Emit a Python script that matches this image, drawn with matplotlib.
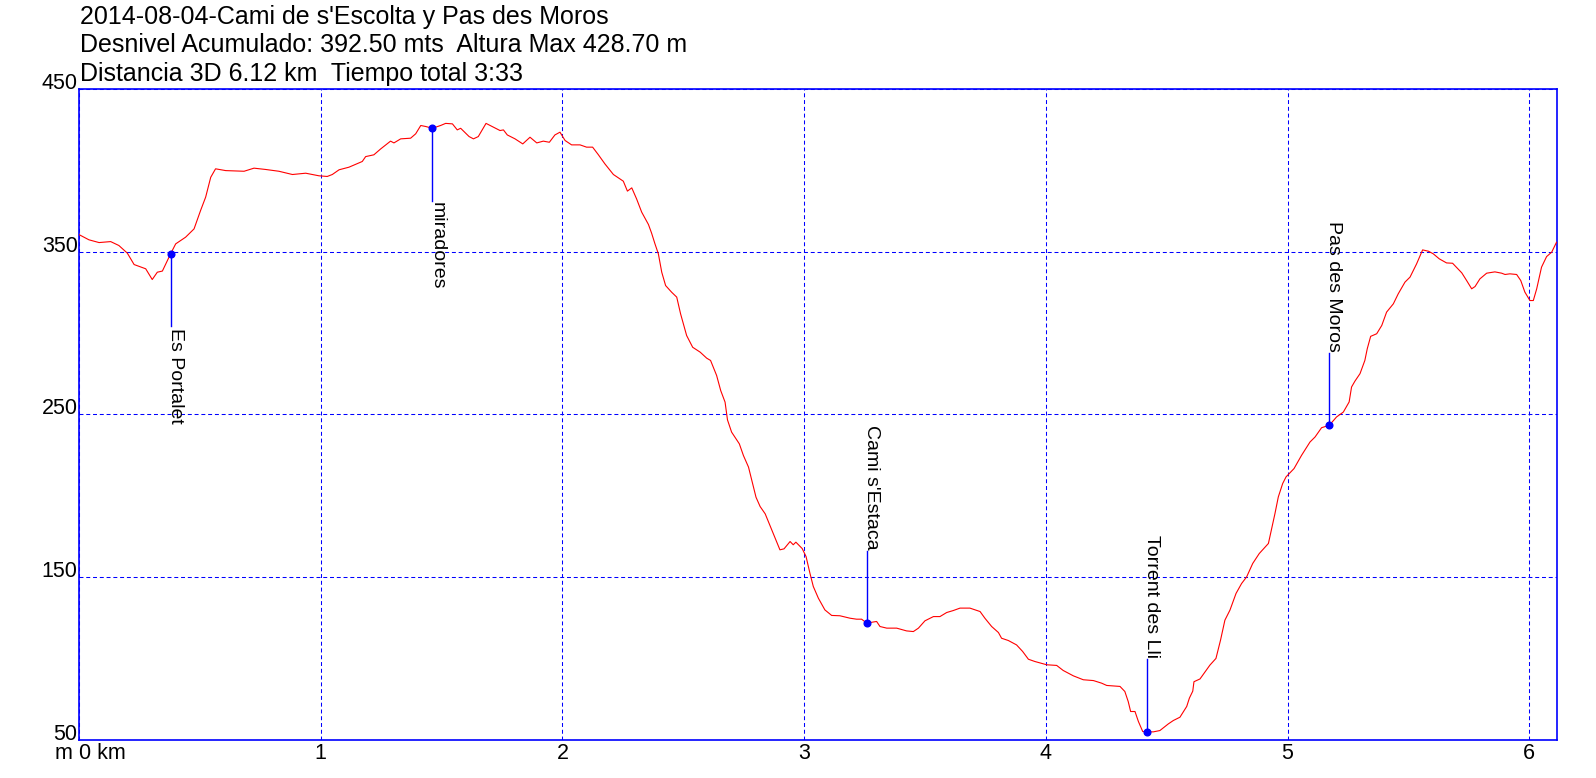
import matplotlib
matplotlib.use("Agg")
import matplotlib.pyplot as plt

plt.rcParams['font.family'] = ['Liberation Sans', 'DejaVu Sans']

# perfil de altura (km, m)
dist_km = [
    0.000, 0.041, 0.083, 0.131, 0.165, 0.200, 0.228, 0.276, 0.303, 0.324,
    0.345, 0.379, 0.400, 0.441, 0.476, 0.503, 0.524, 0.545, 0.565, 0.607,
    0.683, 0.724, 0.772, 0.827, 0.883, 0.938, 0.993, 1.027, 1.048, 1.076,
    1.117, 1.172, 1.186, 1.220, 1.248, 1.289, 1.303, 1.331, 1.372, 1.393,
    1.414, 1.434, 1.462, 1.496, 1.517, 1.545, 1.565, 1.579, 1.614, 1.632,
    1.652, 1.684, 1.714, 1.742, 1.756, 1.772, 1.804, 1.836, 1.866, 1.894,
    1.921, 1.946, 1.969, 1.990, 2.011, 2.038, 2.073, 2.100, 2.125, 2.148,
    2.176, 2.211, 2.252, 2.269, 2.287, 2.307, 2.328, 2.356, 2.369, 2.383,
    2.397, 2.411, 2.427, 2.452, 2.473, 2.489, 2.514, 2.539, 2.570, 2.597,
    2.613, 2.638, 2.655, 2.673, 2.683, 2.700, 2.732, 2.749, 2.770, 2.787,
    2.801, 2.818, 2.839, 2.873, 2.900, 2.917, 2.942, 2.955, 2.966, 2.992,
    3.008, 3.024, 3.038, 3.059, 3.086, 3.114, 3.148, 3.190, 3.217, 3.238,
    3.259, 3.300, 3.314, 3.342, 3.383, 3.424, 3.452, 3.473, 3.500, 3.535,
    3.562, 3.590, 3.617, 3.645, 3.686, 3.728, 3.748, 3.776, 3.804, 3.817,
    3.845, 3.879, 3.904, 3.928, 3.955, 4.004, 4.045, 4.072, 4.114, 4.155,
    4.197, 4.231, 4.252, 4.307, 4.327, 4.341, 4.351, 4.369, 4.383, 4.401,
    4.417, 4.445, 4.472, 4.507, 4.528, 4.555, 4.583, 4.594, 4.608, 4.613,
    4.638, 4.659, 4.679, 4.704, 4.723, 4.741, 4.762, 4.787, 4.810, 4.831,
    4.856, 4.883, 4.921, 4.930, 4.948, 4.962, 4.980, 4.994, 5.027, 5.058,
    5.093, 5.114, 5.141, 5.173, 5.203, 5.231, 5.255, 5.265, 5.279, 5.300,
    5.320, 5.330, 5.344, 5.369, 5.390, 5.410, 5.438, 5.458, 5.486, 5.507,
    5.534, 5.559, 5.583, 5.603, 5.628, 5.658, 5.683, 5.721, 5.741, 5.762,
    5.776, 5.796, 5.824, 5.858, 5.886, 5.900, 5.920, 5.948, 5.965, 5.982,
    6.003, 6.017, 6.031, 6.051, 6.072, 6.093, 6.113,
]
altura_m = [
    360.4, 357.2, 355.5, 356.1, 353.7, 349.0, 342.0, 339.4, 332.8, 337.3,
    338.0, 348.6, 354.7, 358.8, 363.9, 375.2, 383.4, 395.6, 400.8, 399.7,
    399.3, 401.2, 400.4, 399.3, 397.3, 398.1, 396.5, 396.1, 397.3, 400.2,
    401.8, 405.3, 408.3, 409.4, 413.0, 417.8, 416.7, 419.2, 419.6, 422.3,
    427.4, 426.8, 425.7, 427.4, 428.7, 428.4, 424.7, 425.7, 420.6, 419.2,
    420.6, 428.7, 426.4, 424.3, 424.7, 421.6, 419.2, 416.1, 420.2, 416.7,
    417.8, 417.1, 421.6, 423.3, 418.2, 415.5, 415.5, 414.1, 414.1, 409.6,
    403.8, 397.3, 393.2, 387.1, 389.1, 382.3, 374.2, 366.6, 361.3, 354.7,
    348.6, 337.3, 329.1, 325.0, 322.0, 311.7, 298.4, 291.2, 288.2, 284.5,
    283.1, 273.9, 264.6, 257.5, 246.6, 239.1, 231.9, 224.7, 217.6, 207.3,
    199.1, 193.4, 188.9, 176.6, 166.8, 167.4, 171.9, 169.9, 171.5, 167.6,
    162.7, 152.5, 144.3, 137.1, 129.9, 126.5, 126.3, 124.8, 124.2, 124.2,
    121.8, 122.8, 119.7, 118.7, 118.7, 117.0, 116.6, 118.7, 123.2, 125.8,
    125.8, 128.3, 129.5, 131.0, 131.0, 128.9, 124.8, 119.7, 116.0, 112.5,
    111.1, 108.4, 104.4, 99.6, 98.2, 96.2, 95.8, 92.7, 89.4, 87.0,
    86.5, 84.9, 83.5, 82.9, 79.8, 73.6, 67.5, 67.5, 61.4, 55.2,
    55.0, 55.0, 55.8, 59.9, 62.0, 64.0, 70.6, 75.7, 80.0, 85.8,
    87.5, 91.9, 96.0, 100.1, 111.4, 123.6, 129.8, 140.0, 146.1, 150.2,
    158.4, 164.5, 170.7, 176.8, 189.0, 199.3, 207.5, 211.6, 216.7, 224.8,
    233.0, 236.1, 241.8, 243.3, 248.4, 251.4, 257.6, 266.8, 270.4, 275.0,
    283.1, 290.3, 297.9, 299.5, 304.6, 312.8, 317.9, 324.0, 331.2, 334.3,
    342.4, 351.0, 350.2, 348.6, 345.5, 343.0, 342.8, 336.9, 332.2, 327.1,
    328.5, 333.2, 336.7, 337.5, 336.7, 335.9, 336.3, 335.9, 332.2, 325.1,
    319.9, 319.9, 327.1, 340.4, 346.9, 349.6, 355.7,
]

# waypoints
wpt_nombre = ["Es Portalet", "miradores", "Cami s'Estaca", "Torrent des Lli", "Pas des Moros"]
wpt_km = [0.379, 1.462, 3.259, 4.417, 5.173]
wpt_alt = [348.6, 425.7, 121.8, 55.0, 243.3]
wpt_arriba = [False, False, True, True, True]

titulo = ["2014-08-04-Cami de s'Escolta y Pas des Moros",
          "Desnivel Acumulado: 392.50 mts  Altura Max 428.70 m",
          "Distancia 3D 6.12 km  Tiempo total 3:33"]

xticks = [0, 1, 2, 3, 4, 5, 6]
xtick_labels = ["0 km", "1", "2", "3", "4", "5", "6"]
yticks = [50, 150, 250, 350, 450]

W, H = 1596, 778
fig = plt.figure(figsize=(W / 100, H / 100), dpi=100)
ax = fig.add_axes([79 / W, 38 / H, (1557 - 79) / W, (740 - 88.7) / H])

ax.plot(dist_km, altura_m, color='red', lw=0.8, zorder=3)

ax.set_xlim(0, 6.115)
ax.set_ylim(50, 450)
ax.set_xticks(xticks)
ax.set_xticklabels(xtick_labels)
ax.set_yticks(yticks)
ax.tick_params(axis='both', length=0, labelsize=15.5, colors='black')
ax.tick_params(axis='x', pad=1.9)
ax.tick_params(axis='y', pad=1)
plt.setp(ax.get_yticklabels(), va='baseline')
plt.setp(ax.get_xticklabels()[0], ha='left')

ax.grid(True, color='blue', lw=0.75, linestyle=(0, (3.8, 2.7)))
for s in ax.spines.values():
    s.set_color('blue')
    s.set_linewidth(1.2)

# unidad del eje y
ax.annotate("m", xy=(0, 0), xycoords='axes fraction', xytext=(-4.5, -1.9),
            textcoords='offset points', ha='right', va='top', fontsize=15.5)

# marcas de waypoints
largo = 44.5
for nombre, x, y, arriba in zip(wpt_nombre, wpt_km, wpt_alt, wpt_arriba):
    y2 = y + largo if arriba else y - largo
    ax.plot([x, x], [y, y2], color='blue', lw=1.0, zorder=4)
    ax.plot(x, y, 'o', color='blue', ms=4.8, zorder=5)
    ax.text(x, y2 + (0.8 if arriba else -0.8), nombre, rotation=270,
            rotation_mode='anchor', ha='right' if arriba else 'left',
            va='baseline', fontsize=14, zorder=5)

for i, linea in enumerate(titulo):
    base = [24, 52.3, 81][i]
    fig.text(79.5 / W, 1 - base / H, linea, fontsize=18, ha='left', va='baseline')

fig.savefig('out.png', dpi=100)
